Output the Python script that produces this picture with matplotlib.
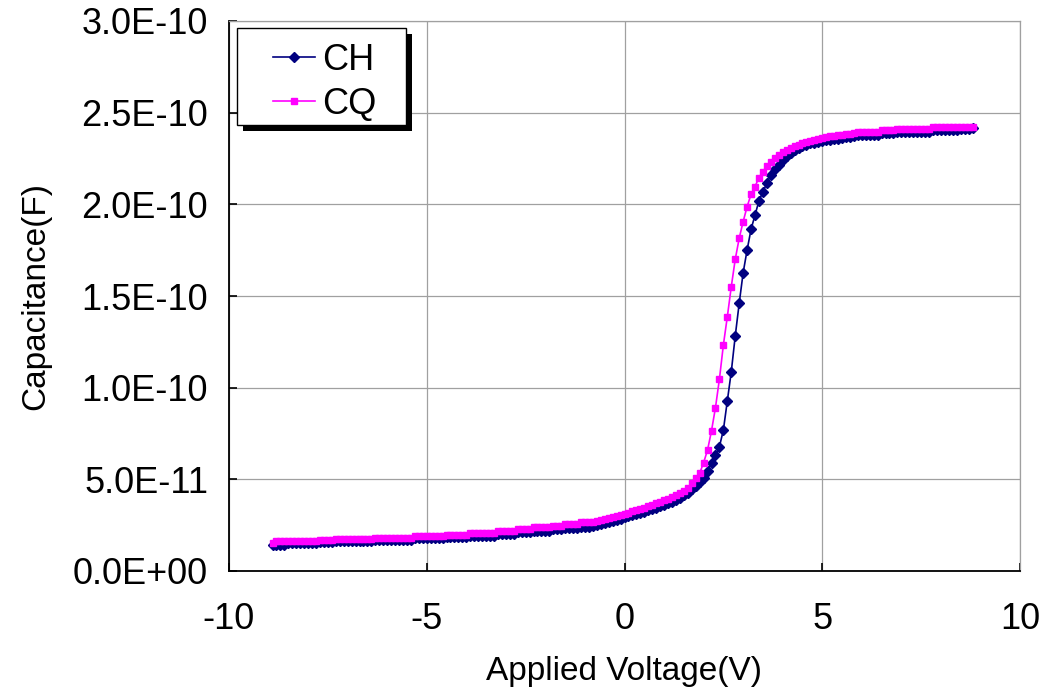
import matplotlib
matplotlib.use("Agg")
import matplotlib.pyplot as plt
from matplotlib.ticker import FixedLocator, FixedFormatter
from matplotlib.patches import Rectangle
from matplotlib.transforms import offset_copy

plt.rcParams['font.family'] = ['Liberation Sans', 'DejaVu Sans']

# Applied voltage sweep (V)
voltage = [
    -8.9, -8.8, -8.7, -8.6, -8.5, -8.4, -8.3, -8.2, -8.1, -8.0,
    -7.9, -7.8, -7.7, -7.6, -7.5, -7.4, -7.3, -7.2, -7.1, -7.0,
    -6.9, -6.8, -6.7, -6.6, -6.5, -6.4, -6.3, -6.2, -6.1, -6.0,
    -5.9, -5.8, -5.7, -5.6, -5.5, -5.4, -5.3, -5.2, -5.1, -5.0,
    -4.9, -4.8, -4.7, -4.6, -4.5, -4.4, -4.3, -4.2, -4.1, -4.0,
    -3.9, -3.8, -3.7, -3.6, -3.5, -3.4, -3.3, -3.2, -3.1, -3.0,
    -2.9, -2.8, -2.7, -2.6, -2.5, -2.4, -2.3, -2.2, -2.1, -2.0,
    -1.9, -1.8, -1.7, -1.6, -1.5, -1.4, -1.3, -1.2, -1.1, -1.0,
    -0.9, -0.8, -0.7, -0.6, -0.5, -0.4, -0.3, -0.2, -0.1, 0.0,
    0.1, 0.2, 0.3, 0.4, 0.5, 0.6, 0.7, 0.8, 0.9, 1.0,
    1.1, 1.2, 1.3, 1.4, 1.5, 1.6, 1.7, 1.8, 1.9, 2.0,
    2.1, 2.2, 2.3, 2.4, 2.5, 2.6, 2.7, 2.8, 2.9, 3.0,
    3.1, 3.2, 3.3, 3.4, 3.5, 3.6, 3.7, 3.8, 3.9, 4.0,
    4.1, 4.2, 4.3, 4.4, 4.5, 4.6, 4.7, 4.8, 4.9, 5.0,
    5.1, 5.2, 5.3, 5.4, 5.5, 5.6, 5.7, 5.8, 5.9, 6.0,
    6.1, 6.2, 6.3, 6.4, 6.5, 6.6, 6.7, 6.8, 6.9, 7.0,
    7.1, 7.2, 7.3, 7.4, 7.5, 7.6, 7.7, 7.8, 7.9, 8.0,
    8.1, 8.2, 8.3, 8.4, 8.5, 8.6, 8.7, 8.8,
]

# Capacitance in pF (scaled to F when plotted)
ch_pf = [
    14.1, 14.1, 14.1, 14.1, 15.1, 15.1, 15.1, 15.1, 15.1, 15.1,
    15.1, 15.1, 15.8, 15.8, 15.8, 15.8, 16.4, 16.4, 16.4, 16.4,
    16.4, 16.4, 16.4, 16.4, 16.4, 16.4, 17.1, 17.1, 17.1, 17.1,
    17.1, 17.1, 17.1, 17.1, 17.1, 17.1, 17.8, 17.8, 17.8, 17.8,
    17.8, 17.8, 17.8, 17.8, 18.4, 18.4, 18.4, 18.4, 18.4, 18.4,
    19.2, 19.2, 19.2, 19.2, 19.2, 19.2, 19.2, 20.3, 20.3, 20.3,
    20.3, 20.3, 21.3, 21.3, 21.3, 21.3, 22.0, 22.0, 22.0, 22.0,
    22.0, 22.7, 22.7, 22.7, 23.4, 23.4, 23.4, 23.4, 24.0, 24.0,
    24.0, 24.5, 25.0, 25.5, 26.0, 26.6, 27.2, 27.9, 28.6, 29.3,
    29.9, 30.5, 31.1, 31.7, 32.4, 33.1, 33.8, 34.5, 35.3, 36.1,
    37.0, 37.9, 38.9, 40.0, 41.2, 42.8, 44.5, 46.4, 48.4, 50.6,
    54.7, 59.1, 63.3, 67.8, 76.9, 92.9, 108.7, 128.2, 146.0, 162.7,
    175.1, 186.4, 194.2, 201.9, 206.9, 211.5, 216.0, 219.2, 221.5, 224.2,
    226.4, 228.2, 229.6, 230.8, 231.8, 232.6, 233.2, 233.7, 234.1, 234.5,
    234.9, 235.3, 235.6, 235.9, 236.3, 236.6, 236.9, 237.3, 237.7, 238.0,
    238.0, 238.0, 238.0, 238.0, 238.8, 238.8, 238.8, 238.8, 239.7, 239.7,
    239.7, 239.7, 239.7, 239.7, 239.7, 239.7, 239.7, 240.6, 240.6, 240.6,
    240.6, 240.6, 240.6, 240.6, 241.0, 241.0, 241.0, 241.5,
]

cq_pf = [
    15.1, 16.2, 16.2, 16.2, 16.2, 16.2, 16.2, 16.2, 16.2, 16.2,
    16.2, 16.2, 16.9, 16.9, 16.9, 16.9, 17.5, 17.5, 17.5, 17.5,
    17.5, 17.5, 17.5, 17.5, 17.5, 17.5, 18.2, 18.2, 18.2, 18.2,
    18.2, 18.2, 18.2, 18.2, 18.2, 18.2, 19.0, 19.0, 19.0, 19.0,
    19.0, 19.0, 19.0, 19.0, 19.6, 19.6, 19.6, 19.6, 19.6, 19.6,
    20.6, 20.6, 20.6, 20.6, 20.6, 20.6, 20.6, 21.8, 21.8, 21.8,
    21.8, 21.8, 22.9, 22.9, 22.9, 22.9, 23.8, 23.8, 23.8, 23.8,
    23.8, 24.7, 24.7, 24.7, 25.6, 25.6, 25.6, 25.6, 26.6, 26.6,
    26.6, 27.0, 27.5, 27.9, 28.4, 28.9, 29.4, 30.0, 30.6, 31.3,
    31.9, 32.5, 33.1, 33.8, 34.5, 35.3, 36.1, 36.9, 37.7, 38.5,
    39.4, 40.3, 41.3, 42.4, 43.7, 45.4, 47.8, 50.6, 53.3, 59.1,
    66.0, 76.5, 89.1, 104.7, 123.3, 138.7, 155.1, 170.0, 181.5, 190.6,
    198.7, 205.5, 209.7, 214.6, 217.8, 221.0, 223.3, 225.2, 227.0, 228.4,
    229.7, 230.6, 231.6, 232.5, 233.4, 234.1, 234.7, 235.3, 235.8, 236.3,
    236.7, 237.0, 237.3, 237.6, 237.9, 238.2, 238.5, 238.8, 239.3, 239.3,
    239.3, 239.3, 239.3, 239.3, 240.4, 240.4, 240.4, 240.4, 241.3, 241.3,
    241.3, 241.3, 241.3, 241.3, 241.3, 241.3, 241.3, 242.4, 242.4, 242.4,
    242.4, 242.4, 242.4, 242.4, 242.4, 242.4, 242.4, 242.4,
]

x_ticks = [-10, -5, 0, 5, 10]
x_tick_labels = ["-10", "-5", "0", "5", "10"]
y_ticks = [0.0, 0.5e-10, 1.0e-10, 1.5e-10, 2.0e-10, 2.5e-10, 3.0e-10]
y_tick_labels = ["0.0E+00", "5.0E-11", "1.0E-10", "1.5E-10", "2.0E-10", "2.5E-10", "3.0E-10"]

ch = [v * 1e-12 for v in ch_pf]
cq = [v * 1e-12 for v in cq_pf]

fig = plt.figure(figsize=(10.51, 6.96), dpi=100)
ax = fig.add_axes([229 / 1051, 1 - 571 / 696, (1020 - 229) / 1051, (571 - 21) / 696])

ax.plot(voltage, ch, color='#000080', marker='D', markersize=4.7, linewidth=1.2,
        label='CH', zorder=3)
ax.plot(voltage, cq, color='#FF00FF', marker='s', markersize=4.5, linewidth=1.2,
        label='CQ', zorder=4)

ax.set_xlim(-10, 10)
ax.set_ylim(0, 3.0e-10)
ax.xaxis.set_major_locator(FixedLocator(x_ticks))
ax.xaxis.set_major_formatter(FixedFormatter(x_tick_labels))
ax.yaxis.set_major_locator(FixedLocator(y_ticks))
ax.yaxis.set_major_formatter(FixedFormatter(y_tick_labels))

ax.grid(True, color='#a0a0a0', linewidth=0.9, zorder=0)
ax.set_axisbelow(True)
for s in ['top', 'right']:
    ax.spines[s].set_color('#a0a0a0')
    ax.spines[s].set_linewidth(0.9)
for s in ['left', 'bottom']:
    ax.spines[s].set_color('black')
    ax.spines[s].set_linewidth(1.3)

ax.tick_params(axis='both', direction='in', length=6, width=1.2, colors='black',
               labelsize=26, top=False, right=False)
ax.tick_params(axis='x', pad=22)
ax.tick_params(axis='y', pad=15)

ax.set_xlabel('Applied Voltage(V)', fontsize=24, labelpad=14)
ax.set_ylabel('Capacitance(F)', fontsize=24, labelpad=16)

# Legend box with solid black drop shadow
bx0, by0 = (237 - 229) / 791, (571 - 125) / 550
bw, bh = (406 - 237) / 791, (125 - 28) / 550
shadow_tr = offset_copy(ax.transAxes, fig=fig, x=6, y=-6, units='dots')
ax.add_patch(Rectangle((bx0, by0), bw, bh, transform=shadow_tr, facecolor='black',
                       edgecolor='black', linewidth=0, zorder=8, clip_on=False))
ax.add_patch(Rectangle((bx0, by0), bw, bh, transform=ax.transAxes, facecolor='white',
                       edgecolor='black', linewidth=1.0, zorder=9, clip_on=False))

leg = ax.legend(loc='upper left', bbox_to_anchor=((273 - 229) / 791, (571 - 43) / 550),
                borderaxespad=0, borderpad=0, fontsize=26, frameon=False,
                handlelength=1.16, handletextpad=0.2, labelspacing=0.25)
leg.set_zorder(10)

fig.savefig('out.png', dpi=100)
